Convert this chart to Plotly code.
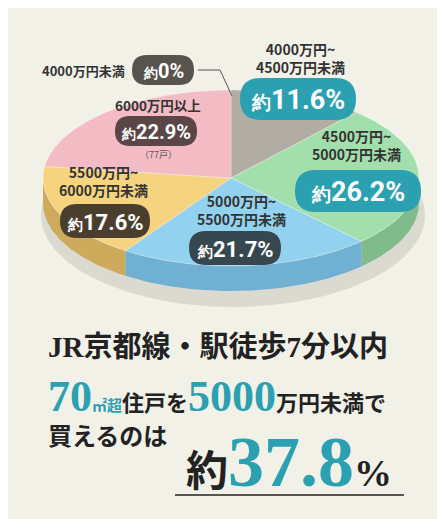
import numpy as np
import plotly.graph_objects as go

categories = ["4000万円未満", "4000万円~4500万円未満", "4500万円~5000万円未満",
              "5000万円~5500万円未満", "5500万円~6000万円未満", "6000万円以上"]
values = [0.0, 11.6, 26.2, 21.7, 17.6, 22.9]
top_colors = ["#8a857c", "#b2ada3", "#a3dfad", "#92d2ef", "#f6d37f", "#f3bcc4"]
side_colors = ["#6e6a62", "#8f8a80", "#80bb8c", "#70b0d3", "#cdaa5c", "#cf98a0"]

W, H = 445, 519
cx, cy, rx, ry, depth = 223, 170, 188, 88, 25
BG = "#f2f1e8"

fig = go.Figure()

def pt(t):
    return cx + rx * np.sin(t), cy - ry * np.cos(t)

th = np.linspace(0, 2 * np.pi, 200)
fig.add_trace(go.Scatter(x=cx + 2 + (rx + 4) * np.sin(th), y=cy + depth + 12 - (ry + 4) * np.cos(th),
                         fill="toself", fillcolor="rgba(150,150,140,0.25)", line=dict(width=0),
                         mode="lines", hoverinfo="skip"))

total = sum(values)
start = 0.0
wedges = []
for v, tc, sc in zip(values, top_colors, side_colors):
    a0 = start / total * 2 * np.pi
    a1 = (start + v) / total * 2 * np.pi
    start += v
    wedges.append((a0, a1, tc, sc))

for a0, a1, tc, sc in wedges:
    lo, hi = max(a0, np.pi / 2), min(a1, 3 * np.pi / 2)
    if hi > lo:
        t = np.linspace(lo, hi, 80)
        x, y = pt(t)
        xs = np.concatenate([x, x[::-1]])
        ys = np.concatenate([y, (y + depth)[::-1]])
        fig.add_trace(go.Scatter(x=xs, y=ys, fill="toself", fillcolor=sc,
                                 line=dict(width=0), mode="lines", hoverinfo="skip"))
for a0, a1, tc, sc in wedges:
    if a1 > a0:
        t = np.linspace(a0, a1, 100)
        x, y = pt(t)
        xs = np.concatenate([[cx], x, [cx]])
        ys = np.concatenate([[cy], y, [cy]])
        fig.add_trace(go.Scatter(x=xs, y=ys, fill="toself", fillcolor=tc,
                                 line=dict(width=0.6, color="rgba(255,255,255,0.5)"),
                                 mode="lines", hoverinfo="skip"))

shapes = []
anns = []

def rr(x, y, w, h, color):
    r = h / 2
    x0, x1, y0, y1 = x - w / 2, x + w / 2, y - h / 2, y + h / 2
    p = (f"M{x0+r},{y0} L{x1-r},{y0} Q{x1},{y0} {x1},{y0+r} L{x1},{y1-r} Q{x1},{y1} {x1-r},{y1} "
         f"L{x0+r},{y1} Q{x0},{y1} {x0},{y1-r} L{x0},{y0+r} Q{x0},{y0} {x0+r},{y0} Z")
    shapes.append(dict(type="path", path=p, fillcolor=color, line=dict(width=0), layer="above"))

def txt(x, y, s, size, color="#3a3a3a", family="Noto Sans CJK JP", bold=True, **kw):
    if bold:
        s = f"<b>{s}</b>"
    anns.append(dict(x=x, y=y, text=s, showarrow=False, xref="x", yref="y",
                     font=dict(size=size, color=color, family=family), **kw))

def bubble(x, y, w, h, color, pct, big):
    rr(x, y, w, h, color)
    s = "0" if pct == 0 else f"{pct:.1f}"
    txt(x, y + 1, f"<span style='font-size:{int(big*0.72)}px'>約</span>{s}%", big, "white", "Roboto")

teal = "#2aa0b1"
lbl = "#333333"
txt(75, 62, "4000万円未満", 13, lbl)
bubble(155, 62, 62, 30, "#57534d", values[0], 20)
shapes.append(dict(type="path", path="M190,62 L212,62 L224,88", line=dict(color="#555", width=1)))
txt(292, 50, "4000万円~<br>4500万円未満", 14, lbl)
bubble(290, 91, 116, 42, teal, values[1], 27)
txt(348, 137, "4500万円~<br>5000万円未満", 14, lbl)
bubble(350, 183, 126, 42, teal, values[2], 27)
txt(233, 202, "5000万円~<br>5500万円未満", 14, lbl)
bubble(227, 240, 92, 34, "#36474f", values[3], 22)
txt(95, 173, "5500万円~<br>6000万円未満", 14, lbl)
bubble(97, 213, 90, 34, "#4a3f2f", values[4], 22)
txt(150, 97, "6000万円以上", 13.5, lbl)
bubble(148, 123, 82, 30, "#5a4646", values[5], 20)
txt(150, 146, "（77戸）", 9, "#555", bold=False)

serif = "Liberation Serif, Noto Sans CJK JP"
txt(38, 339, "JR京都線・駅徒歩7分以内", 29, "#222", serif, xanchor="left")
anns.append(dict(x=38, y=388, xanchor="left", showarrow=False, xref="x", yref="y",
                 text=("<b><span style='color:#2aa0b1;font-size:44px'>70</span>"
                       "<span style='color:#2aa0b1;font-size:15px'>㎡超</span>"
                       "<span style='font-size:22px'>住戸を</span>"
                       "<span style='color:#2aa0b1;font-size:44px'>5000</span>"
                       "<span style='font-size:22px'>万円未満で</span></b>"),
                 font=dict(size=22, color="#222", family=serif)))
txt(38, 429, "買えるのは", 24, "#222", serif, xanchor="left")
anns.append(dict(x=281, y=454, showarrow=False, xref="x", yref="y",
                 text=("<b><span style='font-size:42px'>約</span>"
                       "<span style='color:#2aa0b1;font-size:72px'>37.8</span>"
                       "<span style='font-size:38px'>%</span></b>"),
                 font=dict(size=40, color="#222", family=serif)))
shapes.append(dict(type="line", x0=167, x1=396, y0=487, y1=487, line=dict(color="#222", width=1.5)))

fig.update_layout(width=W, height=H, margin=dict(l=0, r=0, t=0, b=0),
                  paper_bgcolor=BG, plot_bgcolor=BG, showlegend=False,
                  xaxis=dict(range=[0, W], visible=False, fixedrange=True),
                  yaxis=dict(range=[H, 0], visible=False, fixedrange=True),
                  shapes=shapes, annotations=anns)
fig.write_html("out.html")
